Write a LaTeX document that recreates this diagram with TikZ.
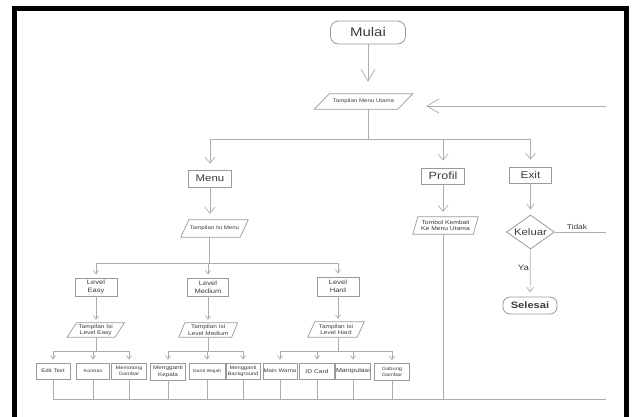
\documentclass[tikz,border=0pt]{standalone}
\usepackage{fontspec}
\setmainfont{Liberation Sans}[FakeStretch=1.2]
\usetikzlibrary{arrows.meta,shapes.geometric,calc}
\definecolor{txt}{HTML}{3C3C3C}
\definecolor{lnc}{HTML}{ADADAD}
\definecolor{bxc}{HTML}{9A9A9A}
\newcommand\fs[2]{\fontsize{#1}{#2}\selectfont}
\newcommand\mypara[8]{%
  \node[ptext, font=#7, minimum width=#4, minimum height=#5] (#1) at (#2,#3) {#8};
  \draw[pline] ([xshift=#6/2]#1.north west) -- ([xshift=#6/2]#1.north east) -- ([xshift=-#6/2]#1.south east) -- ([xshift=-#6/2]#1.south west) -- cycle;
}
\begin{document}
\begin{tikzpicture}[x=1pt,y=-1pt,
  cline/.style={draw=lnc, line width=0.7pt},
  pline/.style={draw=bxc, line width=0.7pt},
  ptext/.style={text=txt, align=center, inner sep=0pt},
  bx/.style={draw=bxc, line width=0.8pt, fill=white, text=txt, align=center, inner sep=0pt},
  rbx/.style={bx, rounded corners=8pt},
  ltext/.style={text=txt, inner sep=0pt},
  abig/.style={-{Straight Barb[length=12pt,width=14pt]}},
  amid/.style={-{Straight Barb[length=6pt,width=10pt]}},
  asmd/.style={-{Straight Barb[length=5pt,width=7pt]}},
  asml/.style={-{Straight Barb[length=3.5pt,width=5pt]}}
]
\useasboundingbox (0,0) rectangle (632,416);
\clip (0,0) rectangle (632,416);
\fill[white] (0,0) rectangle (632,416);

% frame
\draw[line width=4.5pt, black] (14.7,430) -- (14.7,8.5) -- (626.5,8.5) -- (626.5,430);

% top part
\node[rbx, minimum width=75, minimum height=23, font=\fs{12.5}{14}] (mulai) at (368,32.5) {Mulai};
\mypara{tmu}{363.5}{101.5}{83}{15}{15}{\fs{5.1}{6}}{Tampilan Menu Utama}

\node[bx, minimum width=43, minimum height=17, font=\fs{9.5}{11}] (menu) at (210,178.5) {Menu};
\node[bx, minimum width=43, minimum height=16, font=\fs{10.5}{12}] (profil) at (443,176) {Profil};
\node[bx, minimum width=42, minimum height=16, font=\fs{9.8}{11}] (exit) at (530.5,175) {Exit};

\mypara{tim}{214.5}{228.5}{59}{17}{8}{\fs{5.1}{6}}{Tampilan Isi Menu}
\mypara{tk}{445.5}{225.5}{60}{17}{5}{\fs{5.6}{6.6}}{Tombol Kembali\\Ke Menu Utama}

\node[diamond, draw=bxc, line width=0.8pt, fill=white, text=txt, inner sep=0pt, aspect=1.4,
      minimum width=48, minimum height=34, font=\fs{9.5}{11}] (kel) at (530.5,232) {Keluar};
\node[rbx, rounded corners=7pt, minimum width=54, minimum height=17, font=\bfseries\fs{9.3}{11}] (sel) at (530,305.5) {Selesai};
\node[ltext, font=\fs{7}{8}] (tidak) at (577,227) {Tidak};
\node[ltext, font=\fs{8}{9}] (ya) at (523.5,268) {Ya};

% levels
\node[bx, minimum width=42, minimum height=18, font=\fs{6.3}{7.6}] (le) at (96,287) {Level\\Easy};
\node[bx, minimum width=41, minimum height=18, font=\fs{6.3}{7.6}] (lm) at (208,287) {Level\\Medium};
\node[bx, minimum width=42, minimum height=19, font=\fs{6.3}{7.6}] (lh) at (338,286.5) {Level\\Hard};

\mypara{tle}{95.75}{330}{47.5}{14}{9.5}{\fs{5.4}{6.2}}{Tampilan Isi\\Level Easy}
\mypara{tlm}{208.25}{330}{52.5}{14}{6}{\fs{5.4}{6.2}}{Tampilan Isi\\Level Medium}
\mypara{tlh}{336}{329.5}{49}{15}{7}{\fs{5.4}{6.2}}{Tampilan Isi\\Level Hard}

% bottom boxes
\node[bx, minimum width=34, minimum height=16, font=\fs{5.1}{6}] (et) at (53,371) {Edit Text};
\node[bx, minimum width=33, minimum height=16, font=\fs{4.5}{5.4}] (ko) at (93,371) {Kontras};
\node[bx, minimum width=35, minimum height=16, font=\fs{4.7}{5.6}] (mg) at (129,371) {Memotong\\Gambar};
\node[bx, minimum width=35, minimum height=17, font=\fs{5.3}{6.6}] (mk) at (168,371.5) {Mengganti\\Kepala};
\node[bx, minimum width=36, minimum height=16, font=\fs{4.4}{5.3}] (gw) at (207,371) {Ganti Wajah};
\node[bx, minimum width=34, minimum height=16, font=\fs{4.8}{5.7}] (mb) at (243,371) {Mengganti\\Background};
\node[bx, minimum width=34, minimum height=16, font=\fs{5.1}{6}] (mw) at (280,371) {Main Warna};
\node[bx, minimum width=35, minimum height=16, font=\fs{5.6}{6.6}] (ic) at (317,371) {ID Card};
\node[bx, minimum width=35, minimum height=16, font=\fs{5.9}{7}] (mp) at (353,371) {Manipulasi};
\node[bx, minimum width=35, minimum height=17, font=\fs{4.7}{5.6}] (gg) at (392,372) {Gabung\\Gambar};

% helper coordinates
\coordinate (j0) at (368,139);
\coordinate (j1) at (209,263);
\coordinate (rin) at (606,106);
\coordinate (tend) at (606,232);
\coordinate (bot) at (606,399);
\coordinate (bj) at (0,351);

% connectors top
\draw[cline,abig,shorten >=12pt] (mulai) -- (mulai |- tmu.north);
\draw[cline,abig,shorten >=21pt] (rin) -- (tmu.east |- rin);
\draw[cline] (mulai |- tmu.south) -- (j0);
\draw[cline] (menu |- j0) -- (exit |- j0);
\draw[cline,amid,shorten >=6pt] (menu |- j0) -- (menu);
\draw[cline,amid,shorten >=7pt] (profil |- j0) -- (profil);
\draw[cline,amid,shorten >=7pt] (exit |- j0) -- (exit);

% menu branch
\draw[cline,amid,shorten >=6pt] (menu) -- (menu |- tim.north);
\draw[cline] (j1 |- tim.south) -- (j1);
\draw[cline] (le |- j1) -- (lh |- j1);
\foreach \n in {le,lm,lh} \draw[cline,asml,shorten >=3pt] (\n |- j1) -- (\n);
\draw[cline,asml,shorten >=3pt] (le) -- (le |- tle.north);
\draw[cline,asml,shorten >=3pt] (lm) -- (lm |- tlm.north);
\draw[cline,asml,shorten >=3pt] (lh) -- (lh |- tlh.north);
\draw[cline] (le |- tle.south) -- (le |- bj);
\draw[cline] (lm |- tlm.south) -- (lm |- bj);
\draw[cline] (lh |- tlh.south) -- (lh |- bj);
\draw[cline] (et |- bj) -- (mg |- bj);
\draw[cline] (mk |- bj) -- (mb |- bj);
\draw[cline] (mw |- bj) -- (gg |- bj);
\foreach \n in {et,ko,mg,mk,gw,mb,mw,ic,mp,gg} \draw[cline,asml,shorten >=3pt] (\n |- bj) -- (\n);
\foreach \n in {et,ko,mg,mk,gw,mb,mw,ic,mp,gg} \draw[cline] (\n) -- (\n |- bot);
\draw[cline] (et |- bot) -- (bot);

% profil branch
\draw[cline,amid,shorten >=5pt] (profil) -- (profil |- tk.north);
\draw[cline] (profil |- tk.south) -- (profil |- bot);

% exit branch
\draw[cline,asmd,shorten >=5pt] (exit) -- (kel);
\draw[cline] (kel.east) -- (tend);
\draw[cline,asmd,shorten >=4pt] (kel) -- (sel);
\end{tikzpicture}
\end{document}
